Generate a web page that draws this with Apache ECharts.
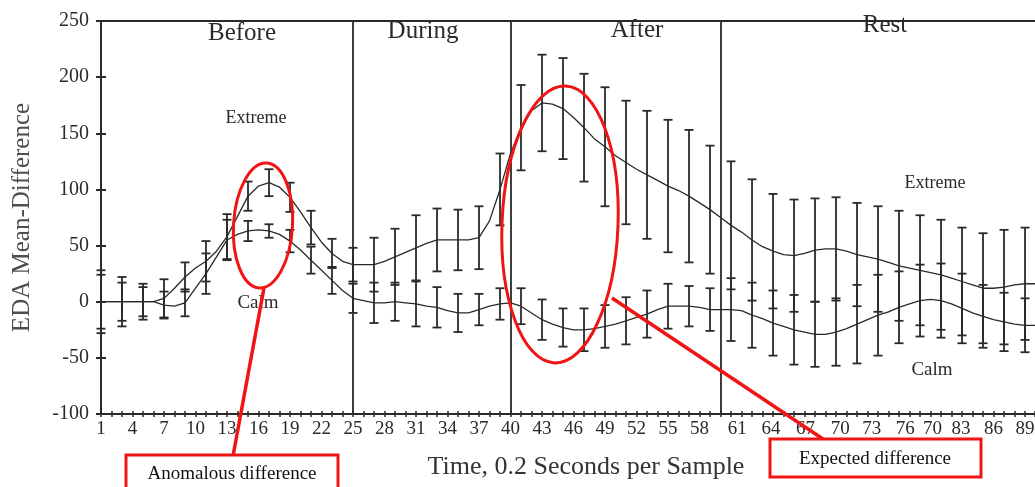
<!DOCTYPE html>
<html><head><meta charset="utf-8">
<script src="https://cdn.jsdelivr.net/npm/echarts@6/dist/echarts.min.js"></script>
<style>html,body{margin:0;padding:0;background:#fff}#c{width:1035px;height:487px}</style>
</head><body><div id="c"></div>
<script>
// ---- data ----
const samples = [1,2,3,4,5,6,7,8,9,10,11,12,13,14,15,16,17,18,19,20,21,22,23,24,25,26,27,28,29,30,
  31,32,33,34,35,36,37,38,39,40,41,42,43,44,45,46,47,48,49,50,51,52,53,54,55,56,57,58,59,60,
  61,62,63,64,65,66,67,68,69,70,71,72,73,74,75,76,77,78,79,80,81,82,83,84,85,86,87,88,89,90];
const extreme = [0,0,0,0,0,0,3,12,22,30,36,45,58,76,94,103,106,102,93,80,66,53,43,36,33,
  33,33,36,40,44,48,52,55,55,55,55,57,72,100,132,
  155,170,177,176,172,164,155,145,138,130,124,118,113,108,103,99,94,88,82,75,
  68,62,55,49,45,42,41,43,46,47,47,45,42,40,38,35,32,30,28,26,24,21,18,15,12,12,13,15,16,16];
const calm = [0,0,0,0,0,0,-3,-4,-1,12,25,40,55,60,63,64,63,60,54,46,37,28,19,10,3,
  1,-1,-1,0,-1,-2,-4,-5,-8,-10,-10,-7,-4,-2,-1,
  -4,-10,-16,-20,-23,-25,-25,-24,-22,-20,-17,-14,-11,-7,-4,-4,-4,-5,-7,-7,
  -7,-8,-12,-15,-19,-22,-25,-27,-29,-29,-27,-24,-20,-16,-12,-9,-5,-2,1,2,1,-2,-6,-10,-13,-16,-18,-20,-21,-21];
const errSamples = [1,3,5,7,9,11,13,15,17,19,21,23,25,27,29,31,33,35,37,39,41,43,45,47,49,51,53,55,57,59,
  61,63,65,67,69,71,73,75,77,79,81,83,85,87,89];
const extremeErr = [28,22,16,17,13,18,20,13,12,13,15,13,15, 24,25,29,28,27,28,32,
  38,43,45,48,53,55,57,59,59,57, 57,54,51,50,46,46,46,47,49,49,49,48,49,51,50];
const calmErr = [24,17,13,12,12,18,18,9,6,10,12,12,13, 18,17,20,18,17,14,14,
  16,18,17,19,19,21,21,20,18,19, 28,29,29,31,29,30,35,36,32,32,33,31,28,26,24];
const sectionBounds = [25, 40, 60];
const sectionNames = ['Before', 'During', 'After', 'Rest'];
const yTicks = [-100, -50, 0, 50, 100, 150, 200, 250];
const xTickValues = [1,4,7,10,13,16,19,22,25,28,31,34,37,40,43,46,49,52,55,58,61.6,64.8,68.1,71.4,74.4,77.6,80.2,82.9,86,89];
const xTickLabels = ['1','4','7','10','13','16','19','22','25','28','31','34','37','40','43','46','49','52','55','58',
  '61','64','67','70','73','76','70','83','86','89'];
const seriesNames = ['Extreme', 'Calm'];
const yTitle = 'EDA Mean-Difference';
const xTitle = 'Time, 0.2 Seconds per Sample';
const notes = ['Anomalous difference', 'Expected difference'];

// ---- chart ----
const FONT = "'Liberation Serif', 'DejaVu Serif', serif";
const INK = '#2a2a2a';
const RED = '#f01414';
const chart = echarts.init(document.getElementById('c'), null, {renderer: 'canvas'});

function errItem(params, api) {
  const x = api.value(0), lo = api.value(1), hi = api.value(2);
  const a = api.coord([x, hi]), b = api.coord([x, lo]);
  const w = 4.5;
  const st = {stroke: INK, lineWidth: 1.8};
  return {type: 'group', children: [
    {type: 'line', shape: {x1: a[0], y1: a[1], x2: b[0], y2: b[1]}, style: st},
    {type: 'line', shape: {x1: a[0] - w, y1: a[1], x2: a[0] + w, y2: a[1]}, style: st},
    {type: 'line', shape: {x1: b[0] - w, y1: b[1], x2: b[0] + w, y2: b[1]}, style: st}
  ]};
}

const xMin = 1, xMax = 89.95;
function labelFor(v) {
  for (let i = 0; i < xTickValues.length; i++) if (Math.abs(xTickValues[i] - v) < 0.01) return xTickLabels[i];
  return '';
}

const option = {
  backgroundColor: '#ffffff',
  animation: false,
  grid: {left: 101, right: 0, top: 21, bottom: 73, containLabel: false, outerBoundsMode: 'none'},
  xAxis: [
    {type: 'value', position: 'bottom', min: xMin, max: xMax, interval: 1,
      axisLine: {show: true, onZero: false, lineStyle: {color: INK, width: 2}},
      axisTick: {show: true, length: 3, lineStyle: {color: INK, width: 1.5}},
      axisLabel: {show: true, customValues: xTickValues, formatter: labelFor, margin: 6,
        fontFamily: FONT, fontSize: 19, color: INK},
      splitLine: {show: false}},
    {type: 'value', position: 'bottom', min: xMin, max: xMax, interval: 1,
      axisLine: {show: false, onZero: false},
      axisTick: {show: true, inside: true, length: 3, lineStyle: {color: INK, width: 1.5}},
      axisLabel: {show: false}, splitLine: {show: false}},
    {type: 'value', position: 'top', min: xMin, max: xMax,
      axisLine: {show: true, onZero: false, lineStyle: {color: INK, width: 2}},
      axisTick: {show: false}, axisLabel: {show: false}, splitLine: {show: false}}
  ],
  yAxis: [
    {type: 'value', position: 'left', min: yTicks[0], max: yTicks[yTicks.length - 1], interval: 50,
      axisLine: {show: true, onZero: false, lineStyle: {color: INK, width: 2}},
      axisTick: {show: true, length: 5, lineStyle: {color: INK, width: 2}},
      axisLabel: {show: true, margin: 12, fontFamily: FONT, fontSize: 20, color: INK},
      splitLine: {show: false},
      name: yTitle, nameLocation: 'middle', nameGap: 66,
      nameTextStyle: {fontFamily: FONT, fontSize: 25, color: '#4d4d4d'}},
    {type: 'value', position: 'left', min: yTicks[0], max: yTicks[yTicks.length - 1], interval: 50,
      axisLine: {show: false, onZero: false},
      axisTick: {show: true, inside: true, length: 5, lineStyle: {color: INK, width: 2}},
      axisLabel: {show: false}, splitLine: {show: false}}
  ],
  series: [
    {name: seriesNames[0], type: 'line', xAxisIndex: 0, yAxisIndex: 0,
      data: samples.map((s, i) => [s, extreme[i]]),
      symbol: 'none', lineStyle: {color: INK, width: 1.3}, z: 3,
      markLine: {silent: true, symbol: 'none', label: {show: false},
        lineStyle: {color: INK, width: 1.8, type: 'solid'},
        data: sectionBounds.map(b => ({xAxis: b}))}},
    {name: seriesNames[1], type: 'line', xAxisIndex: 0, yAxisIndex: 0,
      data: samples.map((s, i) => [s, calm[i]]),
      symbol: 'none', lineStyle: {color: INK, width: 1.3}, z: 3},
    {name: seriesNames[0] + ' err', type: 'custom', xAxisIndex: 0, yAxisIndex: 0,
      renderItem: errItem, encode: {x: 0, y: [1, 2]}, z: 4,
      data: errSamples.map((s, k) => [s, extreme[s - 1] - extremeErr[k], extreme[s - 1] + extremeErr[k]])},
    {name: seriesNames[1] + ' err', type: 'custom', xAxisIndex: 0, yAxisIndex: 0,
      renderItem: errItem, encode: {x: 0, y: [1, 2]}, z: 4,
      data: errSamples.map((s, k) => [s, calm[s - 1] - calmErr[k], calm[s - 1] + calmErr[k]])}
  ],
  graphic: [
    {type: 'text', x: 242, y: 33, z: 10, style: {text: sectionNames[0], font: '25px ' + FONT, fill: INK, align: 'center', verticalAlign: 'middle'}},
    {type: 'text', x: 423, y: 31, z: 10, style: {text: sectionNames[1], font: '25px ' + FONT, fill: INK, align: 'center', verticalAlign: 'middle'}},
    {type: 'text', x: 637, y: 30, z: 10, style: {text: sectionNames[2], font: '25px ' + FONT, fill: INK, align: 'center', verticalAlign: 'middle'}},
    {type: 'text', x: 885, y: 25, z: 10, style: {text: sectionNames[3], font: '25px ' + FONT, fill: INK, align: 'center', verticalAlign: 'middle'}},
    {type: 'text', x: 256, y: 118, z: 10, style: {text: seriesNames[0], font: '18px ' + FONT, fill: INK, align: 'center', verticalAlign: 'middle'}},
    {type: 'text', x: 258, y: 303, z: 10, style: {text: seriesNames[1], font: '19px ' + FONT, fill: INK, align: 'center', verticalAlign: 'middle'}},
    {type: 'text', x: 935, y: 183, z: 10, style: {text: seriesNames[0], font: '18px ' + FONT, fill: INK, align: 'center', verticalAlign: 'middle'}},
    {type: 'text', x: 932, y: 370, z: 10, style: {text: seriesNames[1], font: '19px ' + FONT, fill: INK, align: 'center', verticalAlign: 'middle'}},
    {type: 'text', x: 586, y: 467, z: 10, style: {text: xTitle, font: '26px ' + FONT, fill: '#333', align: 'center', verticalAlign: 'middle'}},
    {type: 'line', z: 20, shape: {x1: 264, y1: 288, x2: 233, y2: 456}, style: {stroke: RED, lineWidth: 3.5}},
    {type: 'line', z: 20, shape: {x1: 612, y1: 298, x2: 823, y2: 439}, style: {stroke: RED, lineWidth: 3.5}},
    {type: 'ellipse', z: 20, x: 263, y: 225.5, rotation: -0.06, shape: {cx: 0, cy: 0, rx: 29.5, ry: 62.5},
      style: {fill: null, stroke: RED, lineWidth: 3}},
    {type: 'ellipse', z: 20, x: 560, y: 224.5, rotation: -0.04, shape: {cx: 0, cy: 0, rx: 58, ry: 138.5},
      style: {fill: null, stroke: RED, lineWidth: 3}},
    {type: 'rect', z: 21, shape: {x: 126, y: 455, width: 212, height: 40}, style: {fill: '#fff', stroke: RED, lineWidth: 3}},
    {type: 'text', z: 22, x: 232, y: 474, style: {text: notes[0], font: '19px ' + FONT, fill: '#111', align: 'center', verticalAlign: 'middle'}},
    {type: 'rect', z: 21, shape: {x: 770, y: 439, width: 211, height: 38}, style: {fill: '#fff', stroke: RED, lineWidth: 3}},
    {type: 'text', z: 22, x: 875, y: 459, style: {text: notes[1], font: '19px ' + FONT, fill: '#111', align: 'center', verticalAlign: 'middle'}}
  ]
};
chart.setOption(option);
</script>
</body></html>
